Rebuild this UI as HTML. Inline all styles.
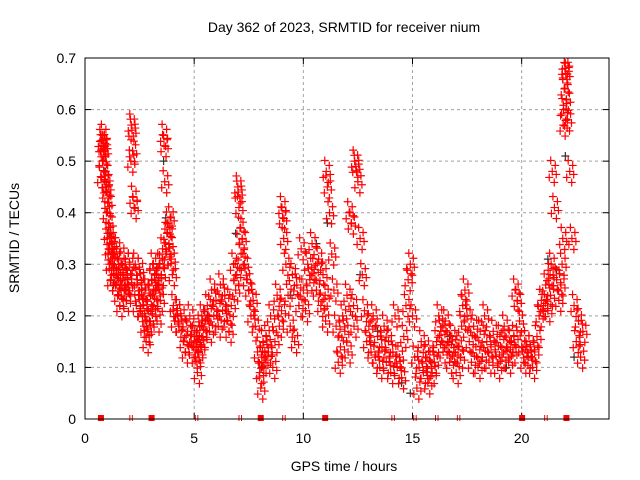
<!DOCTYPE html>
<html><head><meta charset="utf-8"><style>
html,body{margin:0;padding:0;background:#fff;}
svg{display:block;font-family:"Liberation Sans",sans-serif;}
</style></head><body>
<svg id="chart" width="640" height="480" viewBox="0 0 640 480" xmlns="http://www.w3.org/2000/svg">
<text x="344" y="32" font-size="14" text-anchor="middle">Day 362 of 2023, SRMTID for receiver nium</text>
<text transform="translate(19,238) rotate(-90)" font-size="14" text-anchor="middle">SRMTID / TECUs</text>
<text x="344" y="471" font-size="14" text-anchor="middle">GPS time / hours</text>
<g id="grid"></g>
<g id="ticks"></g>
<g id="black-series"></g>
<g id="red-series"></g>
<g id="markers"></g>
<rect x="85" y="58" width="524" height="361" fill="none" stroke="#000" stroke-width="1"/>
</svg>
<script>
const xTicks=[0,5,10,15,20];
const yTicks=[0,0.1,0.2,0.3,0.4,0.5,0.6,0.7];
const yTickLabels=["0","0.1","0.2","0.3","0.4","0.5","0.6","0.7"];
const redTimes=[0.72,0.75,0.78,0.8,0.82,0.85,0.88,0.9,0.92,0.95,0.98,1.0,1.03,1.05,1.08,1.1,1.12,1.15,1.18,1.2,1.25,1.3,1.35,1.4,1.45,1.5,1.55,1.6,1.65,1.7,1.75,1.8,1.85,1.9,1.95,2.0,2.05,2.1,2.12,2.15,2.18,2.2,2.25,2.3,2.35,2.4,2.45,2.5,2.55,2.6,2.65,2.7,2.75,2.8,2.85,2.9,2.95,3.0,3.05,3.1,3.15,3.2,3.25,3.3,3.35,3.4,3.45,3.5,3.55,3.6,3.62,3.65,3.7,3.75,3.8,3.85,3.9,3.95,4.0,4.05,4.1,4.2,4.3,4.4,4.5,4.6,4.7,4.8,4.9,5.0,5.05,5.1,5.15,5.2,5.25,5.3,5.35,5.4,5.5,5.6,5.7,5.8,5.9,6.0,6.1,6.2,6.3,6.4,6.5,6.6,6.7,6.8,6.9,6.95,7.0,7.02,7.05,7.1,7.15,7.2,7.3,7.4,7.5,7.6,7.7,7.8,7.9,8.0,8.05,8.1,8.15,8.2,8.3,8.4,8.5,8.6,8.7,8.8,8.9,9.0,9.02,9.05,9.1,9.2,9.3,9.4,9.5,9.6,9.7,9.8,9.9,10.0,10.1,10.2,10.3,10.4,10.5,10.6,10.7,10.8,10.9,11.0,11.02,11.05,11.1,11.2,11.3,11.4,11.5,11.6,11.7,11.8,11.9,12.0,12.05,12.1,12.2,12.3,12.32,12.35,12.4,12.5,12.6,12.7,12.8,12.9,13.0,13.1,13.2,13.3,13.4,13.5,13.6,13.7,13.8,13.9,14.0,14.1,14.2,14.3,14.4,14.5,14.6,14.7,14.8,14.9,15.0,15.1,15.2,15.3,15.4,15.5,15.6,15.7,15.8,15.9,16.0,16.1,16.2,16.3,16.4,16.5,16.6,16.7,16.8,16.9,17.0,17.1,17.2,17.25,17.3,17.4,17.5,17.6,17.7,17.8,17.9,18.0,18.1,18.2,18.3,18.4,18.5,18.6,18.7,18.8,18.9,19.0,19.1,19.2,19.3,19.4,19.5,19.6,19.65,19.7,19.8,19.9,20.0,20.1,20.2,20.3,20.4,20.5,20.6,20.7,20.8,20.9,21.0,21.1,21.2,21.3,21.32,21.35,21.4,21.5,21.6,21.7,21.8,21.85,21.88,21.9,21.92,21.95,21.98,22.0,22.02,22.05,22.1,22.2,22.3,22.4,22.5,22.6,22.7,22.8];
const redValues=[0.47,0.54,0.53,0.5,0.55,0.53,0.52,0.48,0.46,0.44,0.4,0.45,0.36,0.42,0.33,0.38,0.3,0.35,0.27,0.32,0.34,0.28,0.3,0.26,0.33,0.24,0.29,0.22,0.3,0.26,0.28,0.25,0.31,0.23,0.27,0.26,0.3,0.5,0.57,0.56,0.52,0.43,0.41,0.3,0.22,0.27,0.24,0.29,0.21,0.26,0.22,0.18,0.25,0.15,0.17,0.21,0.19,0.24,0.27,0.3,0.22,0.28,0.25,0.19,0.26,0.3,0.23,0.28,0.33,0.55,0.53,0.46,0.32,0.36,0.38,0.34,0.39,0.31,0.28,0.22,0.19,0.21,0.18,0.2,0.15,0.13,0.17,0.2,0.14,0.16,0.12,0.15,0.09,0.13,0.18,0.14,0.2,0.16,0.19,0.22,0.17,0.25,0.2,0.23,0.18,0.26,0.21,0.24,0.19,0.17,0.22,0.3,0.25,0.28,0.45,0.44,0.41,0.37,0.32,0.35,0.3,0.27,0.25,0.2,0.23,0.18,0.13,0.09,0.06,0.12,0.15,0.11,0.16,0.13,0.2,0.1,0.15,0.24,0.18,0.21,0.41,0.39,0.35,0.3,0.24,0.18,0.28,0.15,0.26,0.22,0.33,0.25,0.21,0.3,0.27,0.34,0.29,0.25,0.31,0.22,0.28,0.24,0.19,0.48,0.45,0.4,0.32,0.25,0.18,0.11,0.14,0.2,0.17,0.24,0.13,0.4,0.38,0.22,0.18,0.5,0.49,0.46,0.35,0.28,0.21,0.15,0.18,0.13,0.2,0.12,0.16,0.1,0.14,0.18,0.11,0.15,0.09,0.13,0.2,0.1,0.12,0.08,0.16,0.22,0.27,0.3,0.2,0.12,0.06,0.1,0.15,0.09,0.12,0.07,0.13,0.09,0.11,0.15,0.2,0.17,0.13,0.19,0.15,0.11,0.16,0.13,0.09,0.14,0.12,0.18,0.22,0.25,0.2,0.15,0.11,0.18,0.14,0.1,0.17,0.12,0.2,0.15,0.11,0.14,0.17,0.13,0.1,0.16,0.12,0.18,0.14,0.11,0.15,0.13,0.16,0.25,0.23,0.19,0.14,0.11,0.15,0.12,0.14,0.1,0.13,0.16,0.2,0.23,0.22,0.26,0.21,0.28,0.24,0.3,0.48,0.41,0.27,0.23,0.26,0.3,0.35,0.57,0.6,0.64,0.68,0.69,0.67,0.62,0.58,0.48,0.35,0.22,0.15,0.19,0.12,0.17,0.14,0.2];
const blackTimes=[0.95,1.1,1.3,3.6,3.7,5.6,6.9,7.3,8.1,9.4,9.8,10.6,11.1,12.6,13.4,14.5,14.9,16.7,18.2,19.3,21.2,21.6,22.0,22.4];
const blackValues=[0.48,0.36,0.26,0.5,0.39,0.2,0.36,0.3,0.1,0.24,0.22,0.34,0.38,0.28,0.17,0.07,0.05,0.16,0.12,0.1,0.31,0.29,0.51,0.12];
const redSquareTimes=[0.73,3.05,8.05,11.0,20.02,22.05];
const tickPairTimes=[2.1,5.1,7.1,9.1,14.1,15.1,16.1,17.1,21.1];
const X0=85,X1=609,Y0=419,Y1=58;
function xs(t){return X0+t*(X1-X0)/24;}
function ys(v){return Y0-v*(Y0-Y1)/0.7;}
const NS="http://www.w3.org/2000/svg";
function mk(tag,at,parent){const e=document.createElementNS(NS,tag);for(const k in at)e.setAttribute(k,at[k]);parent.appendChild(e);return e;}
const grid=document.getElementById('grid'),ticks=document.getElementById('ticks');
xTicks.forEach(t=>{const x=xs(t);
 if(t>0){const g=mk('line',{x1:x,y1:Y1,x2:x,y2:Y0,stroke:'#a0a0a0','stroke-dasharray':'3,3'},grid);
 
 }
 mk('line',{x1:x,y1:Y0,x2:x,y2:Y0-6,stroke:'#000'},ticks);mk('line',{x1:x,y1:Y1,x2:x,y2:Y1+6,stroke:'#000'},ticks);
 const l=mk('text',{x:x,y:Y0+24,'font-size':14,'text-anchor':'middle'},ticks);l.textContent=t;
 
 });
yTicks.forEach((v,i)=>{const y=ys(v);
 if(v>0&&v<0.7){const g=mk('line',{x1:X0,y1:y,x2:X1,y2:y,stroke:'#a0a0a0','stroke-dasharray':'3,3'},grid);
 
 }
 mk('line',{x1:X0,y1:y,x2:X0+6,y2:y,stroke:'#000'},ticks);mk('line',{x1:X1,y1:y,x2:X1-6,y2:y,stroke:'#000'},ticks);
 const l=mk('text',{x:X0-9,y:y+5,'font-size':14,'text-anchor':'end'},ticks);l.textContent=yTickLabels[i];
 
 });
function plus(parent,x,y,c){const p=mk('path',{d:`M${x-4} ${y}H${x+4}M${x} ${y-4}V${y+4}`,stroke:c,'stroke-width':1.2,fill:'none'},parent);return p;}
const bg=document.getElementById('black-series');
blackTimes.forEach((t,i)=>{const p=plus(bg,xs(t),ys(blackValues[i]),'#333');
 
 });
const rg=document.getElementById('red-series');
const jitter=[[0,0],[-3,6],[3,-6],[-1.5,-11],[2,11],[4,3]];
redTimes.forEach((t,i)=>{const x=xs(t),y=ys(redValues[i]);
 jitter.forEach(o=>{const yy=y+o[1];if(yy>Y0-1||yy<Y1+1)return;
  const p=plus(rg,x+o[0],yy,'#ff0000');
  
  });});
const mg=document.getElementById('markers');
redSquareTimes.forEach(t=>{const r=mk('rect',{x:xs(t)-3,y:Y0-4,width:6,height:6,fill:'#ff0000'},mg);
 
 });
tickPairTimes.forEach(t=>{const x=xs(t);const p=mk('path',{d:`M${x-1} ${Y0-4}V${Y0+2}M${x+1.5} ${Y0-4}V${Y0+2}`,stroke:'#ff0000','stroke-width':1},mg);
 
 });
</script>
</body></html>
